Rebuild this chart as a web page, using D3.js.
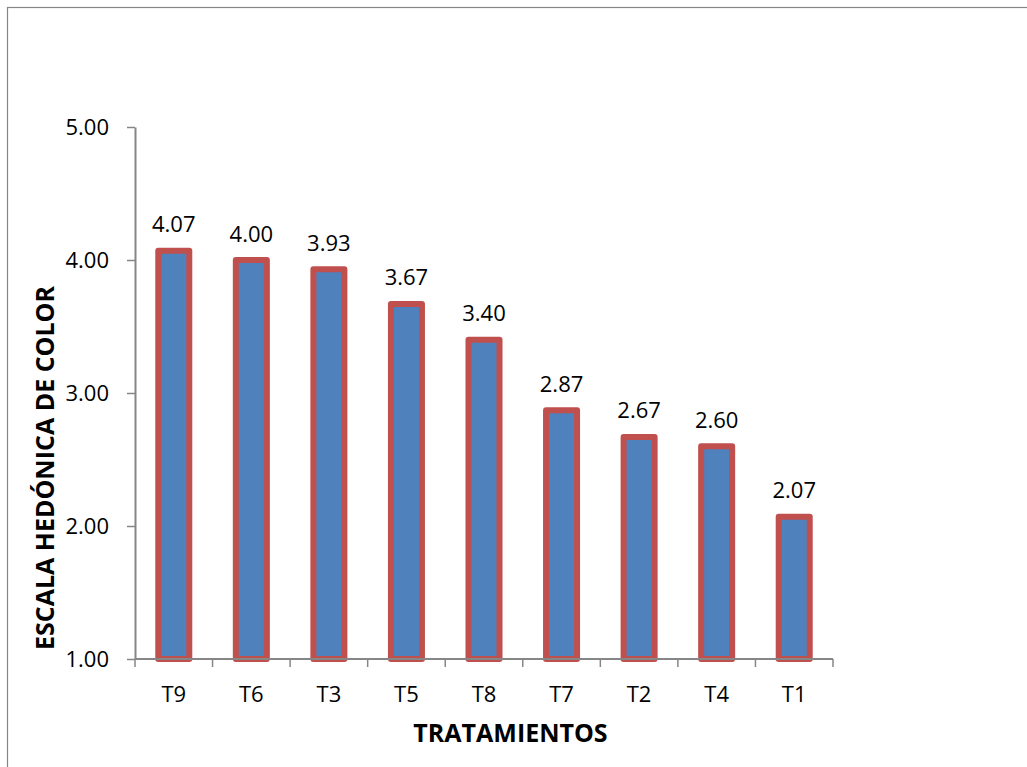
<!DOCTYPE html>
<html>
<head>
<meta charset="utf-8">
<script src="https://cdn.jsdelivr.net/npm/d3@7"></script>
<style>
  html, body { margin: 0; padding: 0; background: #fff; }
  svg { display: block; }
  text { font-family: "Open Sans", sans-serif; fill: #000; }
</style>
</head>
<body>
<svg id="chart" width="1027" height="767"></svg>
<script>
const categories = ["T9", "T6", "T3", "T5", "T8", "T7", "T2", "T4", "T1"];
const values = [4.07, 4.00, 3.93, 3.67, 3.40, 2.87, 2.67, 2.60, 2.07];
const yTicks = [1, 2, 3, 4, 5];
const xTitle = "TRATAMIENTOS";
const yTitle = "ESCALA HEDÓNICA DE COLOR";

const svg = d3.select("#chart");
const axisColor = "#868686";

// outer chart border (extends past right & bottom edge)
svg.append("rect")
  .attr("x", 7.5).attr("y", 7.5)
  .attr("width", 1100).attr("height", 1000)
  .attr("fill", "none").attr("stroke", axisColor).attr("stroke-width", 1.2);

const plotLeft = 135, plotRight = 833, plotTop = 127, plotBottom = 659;

const y = d3.scaleLinear().domain([1, 5]).range([plotBottom, plotTop]);
const x = d3.scaleBand().domain(categories).range([plotLeft, plotRight])
  .paddingInner(0.6).paddingOuter(0.3);
const step = x.step();

// bars
svg.append("g").selectAll("rect")
  .data(categories)
  .join("rect")
  .attr("x", (d) => x(d))
  .attr("y", (d, i) => y(values[i]))
  .attr("width", x.bandwidth())
  .attr("height", (d, i) => y(1) - y(values[i]))
  .attr("fill", "#4F81BD")
  .attr("stroke", "#C0504D")
  .attr("stroke-width", 6)
  .attr("stroke-linejoin", "round");

// y axis
const yAxis = d3.axisLeft(y)
  .tickValues(yTicks)
  .tickFormat(d3.format(".2f"))
  .tickSize(8)
  .tickSizeOuter(0)
  .tickPadding(18);
const gy = svg.append("g").attr("transform", `translate(${plotLeft},0)`).call(yAxis);
gy.select(".domain").attr("stroke", axisColor).attr("stroke-width", 2);
gy.selectAll(".tick line").attr("stroke", axisColor).attr("stroke-width", 1.5);
gy.selectAll(".tick text")
  .style("font-family", "'Open Sans', sans-serif")
  .style("font-size", "22px")
  .attr("fill", "#000");

// x axis line
svg.append("line")
  .attr("x1", plotLeft).attr("x2", plotRight)
  .attr("y1", plotBottom).attr("y2", plotBottom)
  .attr("stroke", axisColor).attr("stroke-width", 2);

// x axis boundary ticks
const boundaries = d3.range(categories.length + 1);
svg.append("g").selectAll("line")
  .data(boundaries)
  .join("line")
  .attr("x1", (k) => plotLeft + k * step)
  .attr("x2", (k) => plotLeft + k * step)
  .attr("y1", plotBottom)
  .attr("y2", plotBottom + 8)
  .attr("stroke", axisColor).attr("stroke-width", 1.5);

// x tick labels
svg.append("g").selectAll("text")
  .data(categories)
  .join("text")
  .attr("x", (d) => x(d) + x.bandwidth() / 2)
  .attr("y", 702)
  .attr("text-anchor", "middle")
  .style("font-size", "22px")
  .text((d) => d);

// value labels
svg.append("g").selectAll("text")
  .data(categories)
  .join("text")
  .attr("x", (d) => x(d) + x.bandwidth() / 2)
  .attr("y", (d, i) => y(values[i]) - 18.5)
  .attr("text-anchor", "middle")
  .style("font-size", "22px")
  .text((d, i) => d3.format(".2f")(values[i]));

// axis titles
svg.append("text")
  .attr("x", 510.5).attr("y", 742)
  .attr("text-anchor", "middle")
  .style("font-size", "25px")
  .style("font-weight", "bold")
  .text(xTitle);

svg.append("text")
  .attr("transform", "translate(54,468) rotate(-90)")
  .attr("text-anchor", "middle")
  .style("font-size", "25px")
  .style("font-weight", "bold")
  .text(yTitle);
</script>
</body>
</html>
